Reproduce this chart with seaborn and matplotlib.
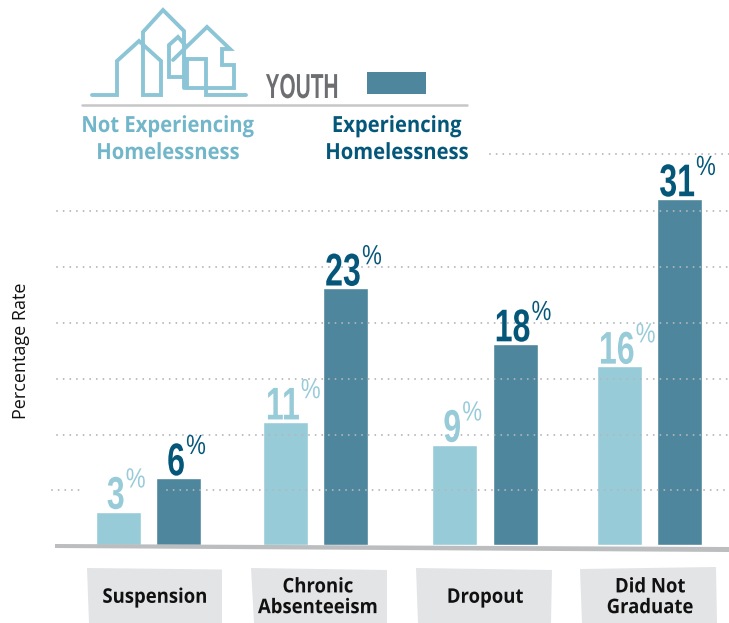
import matplotlib
matplotlib.use("Agg")
import matplotlib.pyplot as plt
import matplotlib.patheffects as pe
from matplotlib.patches import Polygon, Rectangle
from matplotlib.lines import Line2D
from matplotlib.transforms import Affine2D
import pandas as pd
import seaborn as sns

categories = ["Suspension", "Chronic\nAbsenteeism", "Dropout", "Did Not\nGraduate"]
not_experiencing = [3, 11, 9, 16]
experiencing = [6, 23, 18, 31]
series_names = ["Not Experiencing Homelessness", "Experiencing Homelessness"]
grid_values = [5, 10, 15, 20, 25, 30, 35]

LIGHT, DARK = "#98CBD8", "#4E879D"
LIGHT_TXT, DARK_TXT = "#72B6CA", "#05577A"
W, H = 729, 623
BASE_PX = 545
PX_PER_UNIT = 346 / 31
GROUP_PX = 167.5
GROUP0_PX = 148.3


class Squeeze(pe.AbstractPathEffect):
    """Draw real text narrower, about a chosen edge or the centre of each line."""

    def __init__(self, sx, anchor="center"):
        super().__init__()
        self.sx = sx
        self.anchor = anchor

    def draw_path(self, renderer, gc, tpath, affine, rgbFace=None):
        ext = tpath.get_extents()
        ax_ = {"left": ext.x0, "right": ext.x1, "center": (ext.x0 + ext.x1) / 2}[self.anchor]
        squeezed = Affine2D().translate(-ax_, 0).scale(self.sx, 1).translate(ax_, 0) + affine
        renderer.draw_path(gc, tpath, squeezed, rgbFace)


sns.set_theme(style="white")
plt.rcParams["font.family"] = ["Open Sans", "DejaVu Sans"]
fig = plt.figure(figsize=(W / 100, H / 100), dpi=100, facecolor="white")
ax = fig.add_axes([0, (H - BASE_PX) / H, 1, BASE_PX / H])
ax.set_facecolor("none")

df = pd.DataFrame({
    "category": categories * 2,
    "rate": not_experiencing + experiencing,
    "group": [series_names[0]] * 4 + [series_names[1]] * 4,
})
sns.barplot(data=df, x="category", y="rate", hue="group", hue_order=series_names,
            palette=[LIGHT, DARK], width=0.72, gap=0.25, saturation=1,
            legend=False, ax=ax, zorder=2)

x_of = lambda px: (px - GROUP0_PX) / GROUP_PX
ax.set_xlim(x_of(0), x_of(W))
ax.set_ylim(0, BASE_PX / PX_PER_UNIT)
for s in ax.spines.values():
    s.set_visible(False)

nudge = [0.2, -0.3, 1.7, -1.3]
for c in ax.containers:
    for bar, d in zip(c, nudge):
        bar.set_x(bar.get_x() + d / GROUP_PX)

dots = dict(color="#B4B6B8", lw=1.4, linestyles=[(0, (0.01, 3.4))], capstyle="round", zorder=3)
low = ax.transData + Affine2D().translate(0, -1.2)
for v in grid_values:
    if v == 5:
        ax.hlines(v, x_of(52), x_of(83), transform=low, **dots)
        ax.hlines(v, x_of(167), x_of(W), transform=low, **dots)
    elif v == 35:
        ax.hlines(v, x_of(490), x_of(W), **dots)
    else:
        ax.hlines(v, x_of(57), x_of(W), transform=low, **dots)

# value labels
num_font = "Liberation Sans"
NUM_SX = 0.7
renderer = fig.canvas.get_renderer()
for container, color in zip(ax.containers, [LIGHT, DARK_TXT]):
    for bar in container:
        val = bar.get_height()
        xc = bar.get_x() + bar.get_width() / 2
        text = f"{val:.0f}"
        probe = ax.text(0, 0, text, fontsize=33, fontweight="bold", family=num_font)
        w_px = probe.get_window_extent(renderer).width
        probe.remove()
        half_pt = (w_px * NUM_SX / 2) * 0.72
        ax.annotate(text, (xc, val), xytext=(-1.5 + half_pt, 2), textcoords="offset points",
                    ha="right", va="baseline", fontsize=33, fontweight="bold", color=color,
                    family=num_font, zorder=5, path_effects=[Squeeze(NUM_SX, "right")])
        ax.annotate("%", (xc, val), xytext=(-1.5 + half_pt + 0.3, 17.3),
                    textcoords="offset points", ha="left", va="baseline", fontsize=20,
                    color=color, family=num_font, zorder=5,
                    path_effects=[Squeeze(0.8, "left")])

# axis text
ax.set_xlabel("")
ax.set_ylabel("Percentage Rate", fontsize=13, color="#111111")
ax.yaxis.set_label_coords(30 / W, (BASE_PX - 351) / BASE_PX, transform=ax.transAxes)
ax.set_yticks([])
tick_px = [155, 318, 485, 650]
ax.set_xticks([x_of(p) for p in tick_px])
ax.set_xticklabels(categories, fontsize=14.5, fontweight="bold", color="#111111", linespacing=1.05,
                   path_effects=[Squeeze(0.92)])
ax.tick_params(axis="x", length=0, pad=38)
for t in ax.get_xticklabels():
    t.set_verticalalignment("center")
    t.set_zorder(5)


def px(points):
    return [(x / W, 1 - y / H) for x, y in points]


fig.add_artist(Polygon(px([(55, 544), (729, 547), (729, 552), (55, 548)]), closed=True,
                       fc="#BBBDBF", ec="none", transform=fig.transFigure, zorder=6))
plates = [
    [(87, 568), (222, 569.5), (222, 623), (89, 623)],
    [(251, 568), (387, 570), (387, 623), (254, 623)],
    [(416, 568), (552, 570), (551, 623), (418, 623)],
    [(580, 569), (716, 567), (717, 623), (582, 623)],
]
for q in plates:
    fig.add_artist(Polygon(px(q), closed=True, fc="#E3E4E6", ec="none",
                           transform=fig.transFigure, zorder=-1))
ax.set_zorder(2)

fig.add_artist(Line2D([82 / W, 467 / W], [1 - 105 / H] * 2, color="#C6C7C8", lw=1.8,
                      transform=fig.transFigure))
fig.add_artist(Rectangle((367 / W, 1 - 94 / H), 59 / W, 22 / H, fc=DARK, ec="none",
                         transform=fig.transFigure))
fig.text(302.5 / W, 1 - 98 / H, "YOUTH", fontsize=25, fontweight="bold", color="#6D6E71",
         family=num_font, ha="center", va="baseline", path_effects=[Squeeze(0.6)])
for cx, color, lines in [(168, LIGHT_TXT, ["Not Experiencing", "Homelessness"]),
                         (397, DARK_TXT, ["Experiencing", "Homelessness"])]:
    for y, line in zip([126.5, 153.5], lines):
        fig.text(cx / W, 1 - y / H, line, fontsize=16, fontweight="bold", color=color,
                 ha="center", va="center", path_effects=[Squeeze(0.91)])

outlines = [
    [(92, 95), (117, 95), (117, 61), (139, 41), (161, 61), (161, 95), (143, 95), (143, 32),
     (163, 10), (184, 31), (184, 88)],
    [(184, 77), (169, 77), (169, 45), (178, 37), (185, 45)],
    [(173, 60), (207, 27), (230, 49), (222, 49), (222, 65), (234, 65), (234, 88), (187, 88),
     (187, 59), (206, 59), (206, 95), (246, 95)],
]
for o in outlines:
    xs, ys = zip(*o)
    fig.add_artist(Line2D([x / W for x in xs], [1 - y / H for y in ys], color="#8CC5D5", lw=2.8,
                          solid_joinstyle="miter", transform=fig.transFigure))

fig.savefig("out.png", dpi=100)
